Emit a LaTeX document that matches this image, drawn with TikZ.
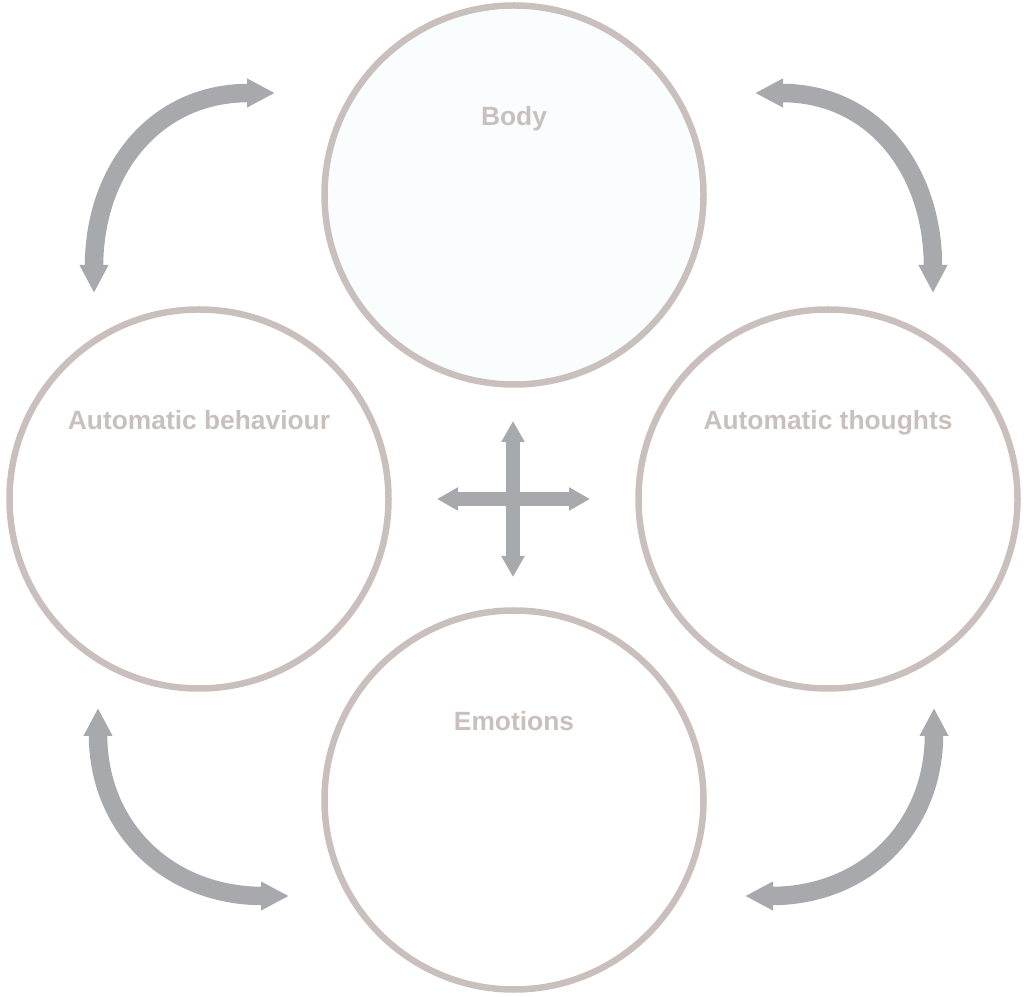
\documentclass[tikz,border=0pt]{standalone}
\usepackage{fontspec}
\setmainfont{Liberation Sans}
\usetikzlibrary{positioning,arrows.meta}

\definecolor{ringgray}{RGB}{201,192,189}
\definecolor{arrowgray}{RGB}{167,169,172}
\definecolor{bodyfill}{RGB}{249,253,253}

\begin{document}
\begin{tikzpicture}[
        ring/.style={circle, draw=ringgray, line width=0.13cm, minimum size=7.58cm, inner sep=0pt},
        lbl/.style={font=\fontsize{15}{18}\selectfont\bfseries, text=ringgray, anchor=base},
        cyc/.style={{Triangle[width=0.54cm, length=0.56cm]}-{Triangle[width=0.54cm, length=0.56cm]}, line width=0.37cm, draw=arrowgray, looseness=1.15},
        hubarr/.style={{Triangle[width=0.44cm, length=0.42cm]}-{Triangle[width=0.44cm, length=0.42cm]}, line width=0.28cm, draw=arrowgray},
    ]
    \useasboundingbox (0,0) rectangle (20.56,19.92);

    % ----- Circles -----
    \node[ring, fill=bodyfill] (body) at (10.28,16.02) {};
    \node[ring] (behav) at (3.98,9.94) {};
    \node[ring] (thoughts) at (16.56,9.94) {};
    \node[ring] (emotions) at (10.28,3.92) {};

    \node[lbl] (bodytxt) at ([yshift=1.38cm]body.center) {Body};
    \node[lbl] (behavtxt) at ([yshift=1.38cm]behav.center) {Automatic behaviour};
    \node[lbl] (thoughtstxt) at ([yshift=1.38cm]thoughts.center) {Automatic thoughts};
    \node[lbl] (emotionstxt) at ([yshift=1.38cm]emotions.center) {Emotions};

    % ----- Curved arrows between circles -----
    \coordinate (tlA) at (1.88,14.06);
    \coordinate (tlB) at (5.50,18.06);
    \coordinate (trA) at (15.10,18.06);
    \coordinate (trB) at (18.66,14.06);
    \coordinate (blA) at (1.96,5.76);
    \coordinate (blB) at (5.78,2.00);
    \coordinate (brA) at (14.90,2.00);
    \coordinate (brB) at (18.68,5.76);

    \draw[cyc] (tlA) to[out=90, in=180] (tlB);
    \draw[cyc] (trA) to[out=0, in=90] (trB);
    \draw[cyc] (blA) to[out=-90, in=180] (blB);
    \draw[cyc] (brA) to[out=0, in=-90] (brB);

    % ----- Centre cross -----
    \coordinate (hub) at (10.26,9.94);
    \coordinate (hubW) at (8.74,9.94);
    \coordinate (hubE) at (11.80,9.94);
    \coordinate (hubN) at (10.26,11.50);
    \coordinate (hubS) at (10.26,8.38);

    \draw[hubarr] (hubW) -- (hubE);
    \draw[hubarr] (hubS) -- (hubN);

\end{tikzpicture}
\end{document}
